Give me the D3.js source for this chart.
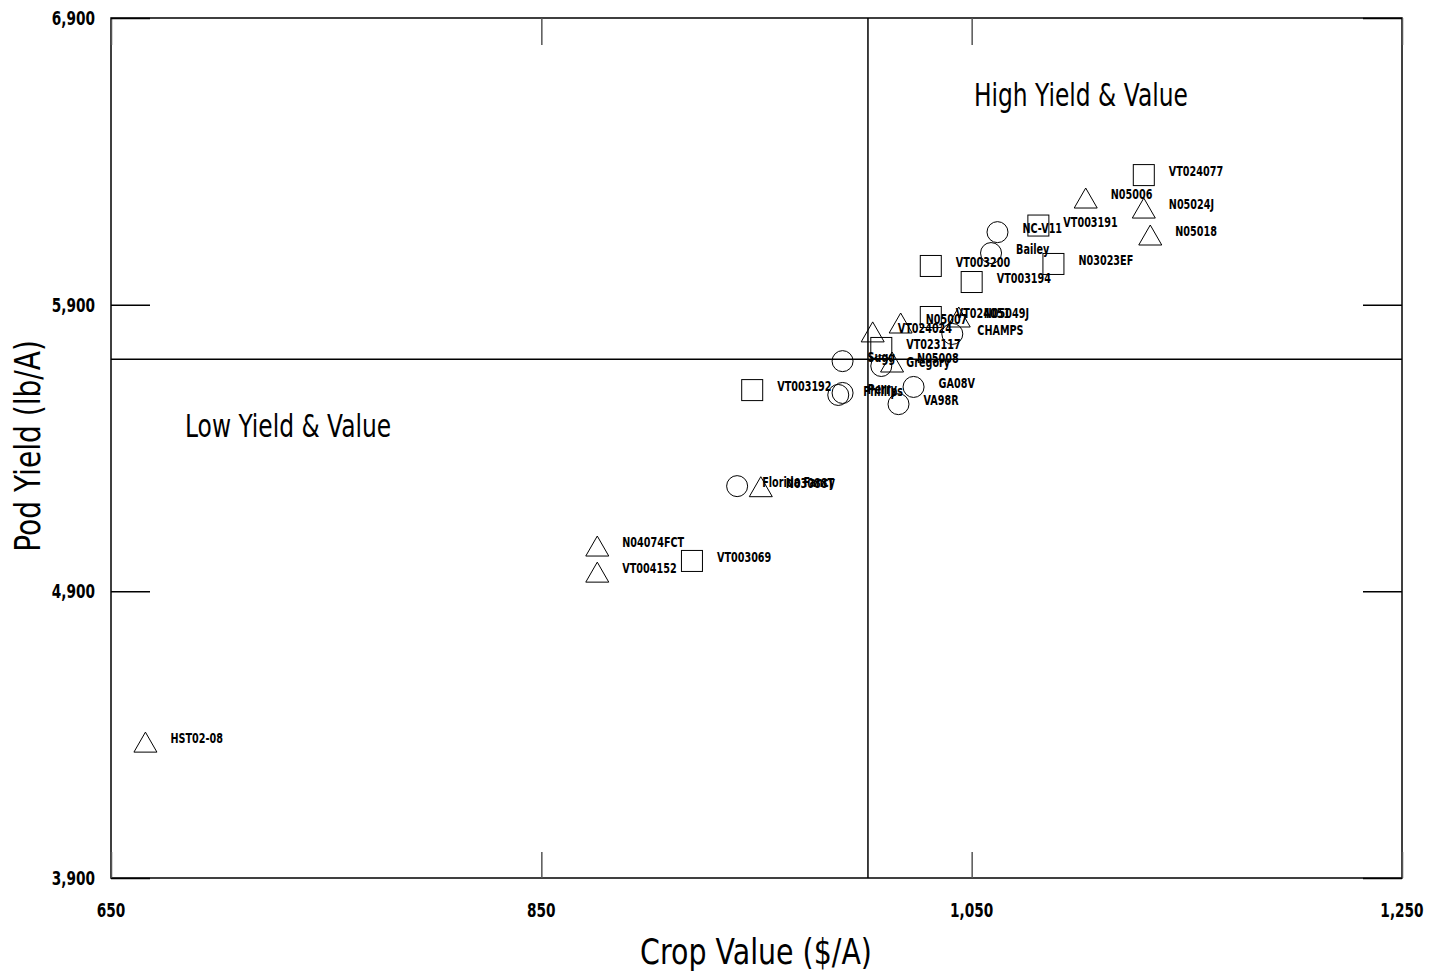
<!DOCTYPE html>
<html><head><meta charset="utf-8">
<script src="https://cdn.jsdelivr.net/npm/d3@7"></script>
<style>
html,body{margin:0;padding:0;background:#fff;}
text{font-family:"DejaVu Sans","Liberation Sans",sans-serif;fill:#000;}
</style></head>
<body><svg id="c" width="1439" height="975"></svg>
<script>
const names = ["HST02-08","N04074FCT","VT004152","VT003069","Florida Fancy","N03088T","VT003192","Phillips","Perry","Sugg","Gregory","VA98R","GA08V","N05008","VT023117","VT024024","N05007","VT024051","N05049J","CHAMPS","VT003200","VT003194","Bailey","NC-V11","VT003191","N03023EF","N05006","N05024J","N05018","VT024077"];
const cropValue = [666,876,876,920,941,952,948,988,990,990,1008,1016,1023,1013,1008,1004,1017,1031,1044,1041,1031,1050,1059,1062,1081,1088,1103,1130,1133,1130];
const podYield = [4374,5058,4967,5006,5267,5265,5602,5585,5592,5703,5686,5553,5613,5700,5749,5805,5836,5857,5857,5798,6035,5979,6080,6153,6176,6042,6272,6237,6143,6352];
const shapes = ["triangle","triangle","triangle","square","circle","triangle","square","circle","circle","circle","circle","circle","circle","triangle","square","triangle","triangle","square","triangle","circle","square","square","circle","circle","square","square","triangle","triangle","triangle","square"];
const xTicks = [650,850,1050,1250];
const yTicks = [3900,4900,5900,6900];
const meanValue = 1001.8;
const meanYield = 5710;

const svg = d3.select("#c");
const L=111,R=1402,T=18,B=878;
const x = d3.scaleLinear().domain([650,1250]).range([L,R]);
const y = d3.scaleLinear().domain([3900,6900]).range([B,T]);
const fmt = d3.format(",");

// condensed text helper
function ctext(parent, tx, ty, str, size, sx, weight, anchor){
  return parent.append("text")
    .attr("transform",`translate(${tx},${ty}) scale(${sx},1)`)
    .attr("text-anchor",anchor||"start")
    .style("font-size",size+"px").style("font-weight",weight||"normal").text(str);
}

// frame
svg.append("rect").attr("x",L).attr("y",T).attr("width",R-L).attr("height",B-T)
  .attr("fill","none").attr("stroke","#000").attr("stroke-width",1.5);

// x axis ticks (inner, top and bottom)
const xb = svg.append("g").attr("transform",`translate(0,${B})`)
  .call(d3.axisBottom(x).tickValues(xTicks).tickSizeInner(-26).tickSizeOuter(0).tickFormat(()=>""));
xb.select(".domain").remove();
xb.selectAll("line").attr("stroke","#555").attr("stroke-width",1.5);
const xt = svg.append("g").attr("transform",`translate(0,${T})`)
  .call(d3.axisTop(x).tickValues(xTicks).tickSizeInner(-27).tickSizeOuter(0).tickFormat(()=>""));
xt.select(".domain").remove();
xt.selectAll("line").attr("stroke","#555").attr("stroke-width",1.5);
const xl = svg.append("g");
xTicks.forEach(d=>ctext(xl, x(d), 917, fmt(d), 19, 0.72, "bold", "middle"));

// y ticks
const yl = svg.append("g").attr("transform",`translate(${L},0)`)
  .call(d3.axisLeft(y).tickValues(yTicks).tickSizeInner(-39).tickSizeOuter(0).tickFormat(()=>""));
yl.select(".domain").remove();
yl.selectAll("line").attr("stroke","#000").attr("stroke-width",1.5);
const yr = svg.append("g").attr("transform",`translate(${R},0)`)
  .call(d3.axisRight(y).tickValues(yTicks).tickSizeInner(-39).tickSizeOuter(0).tickFormat(()=>""));
yr.select(".domain").remove();
yr.selectAll("line").attr("stroke","#000").attr("stroke-width",1.5);
const ylab = svg.append("g");
yTicks.forEach(d=>ctext(ylab, 95, y(d)+7, fmt(d), 19, 0.72, "bold", "end"));

// reference lines
svg.append("line").attr("x1",x(meanValue)).attr("x2",x(meanValue)).attr("y1",T).attr("y2",B)
  .attr("stroke","#000").attr("stroke-width",1.5);
svg.append("line").attr("x1",L).attr("x2",R).attr("y1",y(meanYield)).attr("y2",y(meanYield))
  .attr("stroke","#000").attr("stroke-width",1.5);

// axis titles
ctext(svg, 756, 964, "Crop Value ($/A)", 36, 0.79, "normal", "middle");
svg.append("text").attr("transform",`translate(40,446) rotate(-90) scale(0.78,1)`).attr("text-anchor","middle")
  .style("font-size","36px").text("Pod Yield (lb/A)");

// quadrant labels
ctext(svg, 974, 106, "High Yield & Value", 32, 0.73);
ctext(svg, 185, 437, "Low Yield & Value", 32, 0.73);

// points
const data = names.map((n,i)=>({name:n,cv:cropValue[i],py:podYield[i],shape:shapes[i]}));
const g = svg.append("g");
data.forEach(d=>{
  const cx=x(d.cv), cy=y(d.py);
  if(d.shape==="circle"){
    g.append("circle").attr("cx",cx).attr("cy",cy).attr("r",10.5).attr("fill","none").attr("stroke","#000").attr("stroke-width",1);
  } else if(d.shape==="square"){
    g.append("rect").attr("x",cx-10.5).attr("y",cy-10.5).attr("width",21).attr("height",21).attr("fill","none").attr("stroke","#000").attr("stroke-width",1);
  } else {
    g.append("path").attr("d",`M${cx},${cy-10}L${cx+11.5},${cy+10}L${cx-11.5},${cy+10}Z`).attr("fill","none").attr("stroke","#000").attr("stroke-width",1);
  }
  ctext(g, cx+25, cy+1, d.name, 14, 0.69, "bold");
});
</script></body></html>
